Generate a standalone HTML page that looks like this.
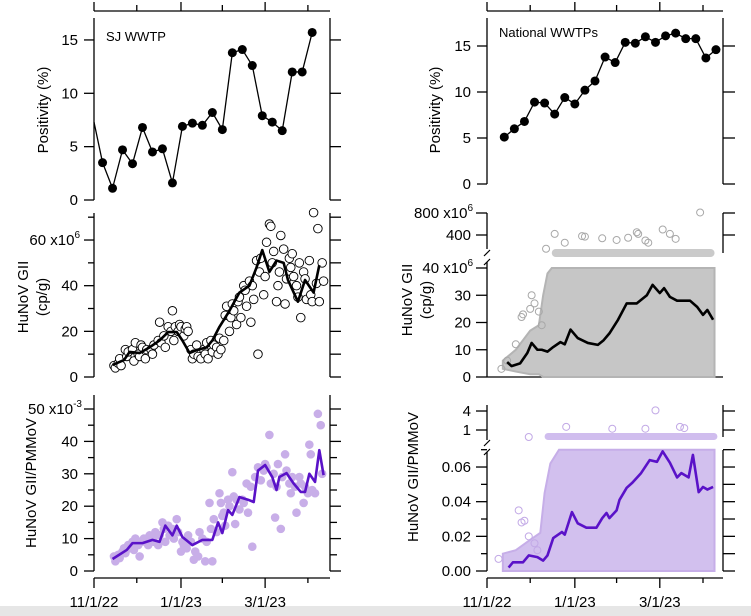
<!DOCTYPE html>
<html><head><meta charset="utf-8">
<style>
html,body{margin:0;padding:0;background:#fff;}
svg{display:block;font-family:"Liberation Sans",Arial,sans-serif;}
</style></head>
<body>
<svg id="chart" width="751" height="616" viewBox="0 0 751 616" xmlns="http://www.w3.org/2000/svg">
<rect x="0" y="606" width="751" height="10" fill="#e6e6e6"/>
</svg>
<script>
// ---- data (days since 11/1/22) ----
const sjPosDays=[0,6,13,20,27,34,41,48,55,62,69,76,83,90,97,104,111,118,125,132,139,146,153];
const sjPosVals=[7.3,3.5,1.1,4.7,3.4,6.8,4.5,4.8,1.6,6.9,7.2,7.0,8.2,6.6,13.8,14.1,12.6,7.9,7.3,6.5,12.0,12.0,15.7];
const natPosDays=[12,19,26,33,40,47,54,61,68,75,82,89,96,103,110,117,124,131,138,145,152,159];
const natPosVals=[5.1,6.0,6.8,8.9,8.8,7.6,9.4,8.7,10.2,11.2,13.8,13.2,15.4,15.3,16.0,15.4,16.1,16.4,15.8,15.8,13.7,14.6];
const sjGiiPts=[[14,5],[15,4],[17,6],[18,8],[19,5],[22,12],[23,9],[24,11],[27,12],[28,7],[29,15],[31,10],[32,9],[33,14],[34,13],[36,8],[37,12],[40,12],[41,10],[42,14],[45,16],[46,24],[47,15],[49,18],[50,13],[52,22],[54,20],[55,29],[56,16],[57,22],[59,20],[60,23],[61,22],[63,18],[64,21],[65,22],[66,20],[68,12],[69,8],[70,10],[72,14],[73,9],[75,8],[77,12],[78,10],[79,15],[80,8],[82,16],[83,11],[84,14],[86,13],[87,10],[88,17],[89,12],[91,16],[92,27],[93,31],[95,20],[96,26],[97,32],[98,29],[100,23],[101,33],[102,35],[103,26],[105,40],[106,38],[107,31],[109,42],[110,24],[111,40],[112,34],[114,51],[115,10],[116,46],[117,52],[119,36],[120,44],[121,59],[123,67],[124,66],[125,50],[126,55],[128,33],[129,40],[130,46],[131,62],[133,56],[134,32],[135,43],[137,52],[138,48],[139,54],[140,44],[142,40],[143,35],[144,50],[145,26],[147,46],[148,43],[149,34],[151,51],[152,36],[153,33],[154,72],[156,41],[157,65],[158,33],[160,50],[161,42]];
const sjGiiLineDays=[13,21,25,32,39,46,52,58,62,67,72,79,83,88,95,102,109,114,118,123,128,133,136,143,148,154,158];
const sjGiiLineVals=[5.3,7.4,11,10.5,13,16,19.7,19.7,16,10.5,11.8,13,16,22,29,37,40,48,55.6,46,51,50,42.5,33,42.5,37,49];
const sjRatioPts=[[14,4.5],[15,3],[17,5],[18,4],[20,6],[21,7],[22,5.5],[24,8],[25,7],[27,9],[28,6.5],[29,10],[31,8],[32,4.5],[33,9],[35,10],[36,9],[38,8],[39,11],[41,10],[42,9],[43,12],[45,8],[46,11],[48,15],[49,13],[50,9],[52,14],[53,11],[55,13],[56,10],[58,16],[59,12],[61,6],[62,9],[63,8],[65,7],[66,11],[68,9],[70,3.5],[71,6],[73,4.5],[74,12],[76,10],[78,3],[79,9],[81,21],[82,13],[83,3],[84,16],[86,12],[88,24],[89,21],[90,17],[91,18],[92,14],[94,22],[95,20],[97,30.5],[98,23],[99,14.5],[100,22],[102,19],[104,22],[105,21],[107,27],[108,18],[110,26],[111,7.5],[113,29],[115,32],[117,28],[119,31],[120,33],[121,32],[123,42],[124,27],[126,30],[127,16.5],[128,26],[129,33],[131,13],[132,29],[134,36],[135,31],[137,27],[138,24],[139,29],[141,26],[142,18],[144,29],[145,27],[147,21],[148,26],[150,24],[151,39],[152,36],[153,25],[155,24],[157,48.5],[159,45],[160,30]];
const sjRatioLineDays=[13,23,27,34,41,46,50,55,58,62,69,76,83,87,90,94,97,102,108,112,115,120,125,128,130,135,140,145,148,151,155,158,161];
const sjRatioLineVals=[3.7,6.5,8.6,8.6,9.6,9,14,11,14,10.5,8,9.6,9.6,15,11.7,18.8,17.3,22.8,22,21.3,31,32.7,29,25,29,30.2,27,24.4,24.4,30,27.5,37.3,29.6];
const natGiiLineDays=[14,17,23,28,31,35,38,42,46,51,54,58,63,70,77,81,85,91,97,104,111,115,120,123,127,132,141,146,150,153,157];
const natGiiLineVals=[5.5,4,5,8.8,12.5,10,10,9.3,11,12.8,12,17.4,14.3,12.5,11.8,13.5,16,21,27,27,30,33.8,30.8,32.6,29.4,28,28,25.7,22.8,24.6,21];
const natCloudDays=[11,20,30,36,39,42,45,158];
const natCloudUpper=[6,10,17,19,30,38,40,40];
const natCloudLower=[3,2,1,1,0,0,0,0];
const natStripRange=[45,158];
const natOutliers=[[10,3],[14,6],[20,12],[24,22],[25,23],[30,25],[31,30],[33,27],[36,24],[38,19]];
const natHighOutliers=[[41,150],[47,420],[54,260],[66,380],[68,370],[80,340],[90,310],[98,350],[104,450],[105,420],[110,300],[122,500],[127,420],[148,810],[112,260],[131,330]];
const natRatioLineDays=[15,18,25,29,35,39,42,46,52,54,59,63,69,76,80,83,85,90,92,97,101,107,113,118,122,127,132,135,140,143,147,150,153,157];
const natRatioLineVals=[0.002,0.005,0.005,0.009,0.008,0.006,0.009,0.019,0.0225,0.021,0.034,0.0275,0.025,0.025,0.0305,0.0335,0.0305,0.035,0.041,0.048,0.051,0.0565,0.064,0.063,0.069,0.0625,0.054,0.0565,0.054,0.067,0.0455,0.0485,0.047,0.0485];
const natRCloudDays=[11,20,30,37,40,44,50,158];
const natRCloudUpper=[0.01,0.012,0.018,0.022,0.045,0.062,0.07,0.07];
const natRCloudLower=[0,0,0,0,0,0,0,0];
const natRStripRange=[40,160];
const natROutliers=[[8,0.007],[22,0.035],[24,0.028],[26,0.029],[29,0.02],[33,0.016],[35,0.012]];
const natRHighOutliers=[[29,0.3],[55,1.5],[87,1.2],[110,1.2],[117,4.1],[134,1.5],[137,1.3]];
const xTickDays=[0,30,61,90,120,150];
const xTickLabels=["11/1/22","","1/1/23","","3/1/23",""];

// ---- helpers ----
const svg=document.getElementById('chart');
const NS='http://www.w3.org/2000/svg';
function mk(tag,attrs,parent){const e=document.createElementNS(NS,tag);for(const k in attrs)e.setAttribute(k,attrs[k]);(parent||svg).appendChild(e);return e;}
function group(name){const g=mk('g',{});return g;}
const XL=d=>94+d*1.426, XR=d=>487+d*1.44;
const yLPos=v=>200-v*10.67, yRPos=v=>184-v*9.2;
const yLGii=v=>377-v*2.283, yRGii=v=>377-v*2.725, yRGiiHi=v=>235-(v-400)*0.055;
const yLRat=v=>571-v*3.24, yRRat=v=>571-v*1733, yRRatHi=v=>430-(v-1)*6.33;

function line(x1,y1,x2,y2,g,w){return mk('line',{x1,y1,x2,y2,stroke:'#000','stroke-width':w||1.3},g);}
function text(x,y,s,g,anchor,size){const t=mk('text',{x,y,'font-size':size||15,'text-anchor':anchor||'end',fill:'#000'},g);t.textContent=s;return t;}
function expLabel(x,y,base,exp,g){const t=mk('text',{x,y,'font-size':15,'text-anchor':'end',fill:'#000'},g);t.appendChild(document.createTextNode(base));const s=mk('tspan',{'font-size':10,dy:-7},t);s.textContent=exp;return t;}
function yTitle(g,x,y,lines){lines.forEach((s,i)=>{const t=mk('text',{x:0,y:0,'font-size':15,'text-anchor':'middle',transform:`translate(${x+i*19},${y}) rotate(-90)`},g);t.textContent=s;});}
function polyline(pts,g,color,w){return mk('polyline',{points:pts.map(p=>p.join(',')).join(' '),fill:'none',stroke:color,'stroke-width':w,'stroke-linejoin':'round'},g);}
function brk(g,x,y){mk('path',{d:`M${x-3},${y+3} L${x+3},${y-3}`,stroke:'#000','stroke-width':1.2,fill:'none'},g);}

// ---- top x axes ----
[[XL,94,330,'top-axis-left'],[XR,487,723,'top-axis-right']].forEach(([X,a,b,n])=>{
 const g=group(n);line(a,11,b,11,g);xTickDays.forEach((d,i)=>line(X(d),11,X(d),xTickLabels[i]!==''?2:5,g));});

// ---- SJ positivity ----
{const g=group('sj-positivity-panel');
 line(94,18,94,200,g);line(330,18,330,200,g);
 [0,5,10,15].forEach(v=>{line(84,yLPos(v),94,yLPos(v),g);line(330,yLPos(v),341,yLPos(v),g);text(78,yLPos(v)+5,String(v),g);});
 yTitle(g,48,110,['Positivity (%)']);
 const t=text(106,41,'SJ WWTP',g,'start',13);
 polyline(sjPosDays.map((d,i)=>[XL(d),yLPos(sjPosVals[i])]),g,'#000',1.3);
 sjPosDays.forEach((d,i)=>{if(i===0)return;const c=mk('circle',{cx:XL(d),cy:yLPos(sjPosVals[i]),r:4.5,fill:'#000'},g);});}

// ---- National positivity ----
{const g=group('national-positivity-panel');
 line(487,18,487,184,g);line(723,18,723,184,g);
 [0,5,10,15].forEach(v=>{line(477,yRPos(v),487,yRPos(v),g);line(723,yRPos(v),735,yRPos(v),g);text(471,yRPos(v)+5,String(v),g);});
 yTitle(g,440,110,['Positivity (%)']);
 const t=text(499,37,'National WWTPs',g,'start',13);
 polyline(natPosDays.map((d,i)=>[XR(d),yRPos(natPosVals[i])]),g,'#000',1.3);
 natPosDays.forEach((d,i)=>{const c=mk('circle',{cx:XR(d),cy:yRPos(natPosVals[i]),r:4.5,fill:'#000'},g);});}

// ---- SJ GII ----
{const g=group('sj-gii-panel');
 line(94,213,94,377,g);line(330,213,330,377,g);
 [0,10,20,30,40,50,60,70].forEach(v=>{const big=v%20===0;line(big?84:88,yLGii(v),94,yLGii(v),g);line(330,yLGii(v),341,yLGii(v),g);});
 [0,20,40].forEach(v=>text(78,yLGii(v)+5,String(v),g));
 expLabel(80,yLGii(60)+5,'60 x10','6',g);
 yTitle(g,28,297,['HuNoV GII','(cp/g)']);
 sjGiiPts.forEach(p=>{const c=mk('circle',{cx:XL(p[0]),cy:yLGii(p[1]),r:4.3,fill:'#fff',stroke:'#000','stroke-width':0.9},g);});
 const l=polyline(sjGiiLineDays.map((d,i)=>[XL(d),yLGii(sjGiiLineVals[i])]),g,'#000',2.6);}

// ---- SJ ratio ----
{const g=group('sj-ratio-panel');
 line(94,395,94,571,g);line(330,395,330,571,g);
 [0,5,10,15,20,25,30,35,40,45,50].forEach(v=>{const big=v%10===0;line(big?84:88,yLRat(v),94,yLRat(v),g);line(330,yLRat(v),big?341:337,yLRat(v),g);});
 [0,10,20,30,40].forEach(v=>text(78,yLRat(v)+5,String(v),g));
 expLabel(82,yLRat(50)+5,'50 x10','-3',g);
 yTitle(g,36,483,['HuNoV GII/PMMoV']);
 sjRatioPts.forEach(p=>{const c=mk('circle',{cx:XL(p[0]),cy:yLRat(p[1]),r:4.3,fill:'#c8aee8'},g);});
 const l=polyline(sjRatioLineDays.map((d,i)=>[XL(d),yLRat(sjRatioLineVals[i])]),g,'#5a12c8',2.6);}

// ---- National GII ----
{const g=group('national-gii-panel');
 line(487,213,487,249,g);line(487,262,487,377,g);brk(g,487,253);brk(g,487,262);
 line(487,377,723,377,g);
 line(723,213,723,253,g);line(723,213,735,213,g);line(723,235,735,235,g);
 [0,10,20,30,40].forEach(v=>{line(476,yRGii(v),487,yRGii(v),g);});
 [0,10,20,30].forEach(v=>text(471,yRGii(v)+5,String(v),g));
 expLabel(473,yRGii(40)+5,'40 x10','6',g);
 [800,400].forEach(v=>line(476,yRGiiHi(v),487,yRGiiHi(v),g));
 expLabel(473,yRGiiHi(800)+5,'800 x10','6',g);
 text(471,yRGiiHi(400)+5,'400',g);
 yTitle(g,412,300,['HuNoV GII','(cp/g)']);
 const top=natCloudDays.map((d,i)=>[XR(d),yRGii(natCloudUpper[i])]);
 const bot=natCloudDays.map((d,i)=>[XR(d),yRGii(natCloudLower[i])]).reverse();
 const cl=mk('polygon',{points:top.concat(bot).map(p=>p.join(',')).join(' '),fill:'#c6c6c6',stroke:'#b4b4b4','stroke-width':2},g);
 const st=mk('rect',{x:XR(natStripRange[0]),y:249,width:XR(natStripRange[1])-XR(natStripRange[0]),height:8,rx:4,fill:'#cacaca'},g);
 natOutliers.forEach(p=>{const c=mk('circle',{cx:XR(p[0]),cy:yRGii(p[1]),r:3.5,fill:'none',stroke:'#a8a8a8','stroke-width':1},g);});
 natHighOutliers.forEach(p=>{const c=mk('circle',{cx:XR(p[0]),cy:yRGiiHi(p[1]),r:3.5,fill:'none',stroke:'#a8a8a8','stroke-width':1},g);});
 const l=polyline(natGiiLineDays.map((d,i)=>[XR(d),yRGii(natGiiLineVals[i])]),g,'#000',2.6);}

// ---- National ratio ----
{const g=group('national-ratio-panel');
 line(487,405,487,440,g);line(487,452,487,571,g);brk(g,487,443);brk(g,487,452);
 line(723,405,723,437,g);line(723,411,735,411,g);line(723,430,735,430,g);
 line(723,450,723,571,g);
 [0,0.01,0.02,0.03,0.04,0.05,0.06,0.07].forEach((v,i)=>{line(723,yRRat(v),735,yRRat(v),g);line(i%2===0?476:481,yRRat(v),487,yRRat(v),g);});
 ['0.00','0.02','0.04','0.06'].forEach((s,i)=>text(471,yRRat(i*0.02)+5,s,g));
 [4,1].forEach(v=>{line(476,yRRatHi(v),487,yRRatHi(v),g);text(471,yRRatHi(v)+5,String(v),g);});
 yTitle(g,418,477,['HuNoV GII/PMMoV']);
 const top=natRCloudDays.map((d,i)=>[XR(d),yRRat(natRCloudUpper[i])]);
 const bot=natRCloudDays.map((d,i)=>[XR(d),yRRat(natRCloudLower[i])]).reverse();
 const cl=mk('polygon',{points:top.concat(bot).map(p=>p.join(',')).join(' '),fill:'#d2c0ee',stroke:'#c6aee8','stroke-width':2},g);
 const st=mk('rect',{x:XR(natRStripRange[0]),y:433,width:XR(natRStripRange[1])-XR(natRStripRange[0]),height:7,rx:3.5,fill:'#d0bdee'},g);
 natROutliers.forEach(p=>{const c=mk('circle',{cx:XR(p[0]),cy:yRRat(p[1]),r:3.5,fill:'none',stroke:'#c2a9e6','stroke-width':1},g);});
 natRHighOutliers.forEach(p=>{const c=mk('circle',{cx:XR(p[0]),cy:p[1]<1?437:yRRatHi(p[1]),r:3.5,fill:'none',stroke:'#c2a9e6','stroke-width':1},g);});
 const l=polyline(natRatioLineDays.map((d,i)=>[XR(d),yRRat(natRatioLineVals[i])]),g,'#5a12c8',2.6);}

// ---- bottom x axes ----
[[XL,94,330,'x-axis-left'],[XR,487,723,'x-axis-right']].forEach(([X,a,b,n])=>{
 const g=group(n);line(a,578,b,578,g);
 xTickDays.forEach((d,i)=>{const major=xTickLabels[i]!=='';line(X(d),578,X(d),major?588:583,g);
  if(major){const t=text(X(d),607,xTickLabels[i],g,'middle',15);}});});
</script>
</body></html>
